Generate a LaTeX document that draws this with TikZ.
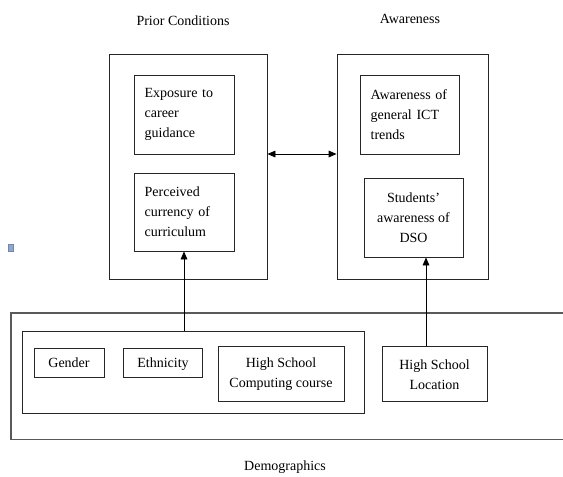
\documentclass[tikz,border=0pt]{standalone}
\usepackage{fontspec}
\setmainfont{Liberation Serif}
\usetikzlibrary{arrows.meta}
\begin{document}
\begin{tikzpicture}[x=0.75pt,y=-0.75pt,
  every node/.style={font=\fontsize{10.5pt}{15pt}\selectfont},
  box/.style={draw=black!85, line width=0.65pt, rectangle, inner sep=0pt},
  txtbox/.style={box, align=left, inner xsep=8pt},
  cbox/.style={box, align=center},
  conn/.style={line width=0.65pt, -{Triangle[length=6pt,width=5pt]}},
  title/.style={inner sep=0pt}]
\useasboundingbox (0,0) rectangle (563,476);
% titles
\node[title] (tprior) at (183,21) {Prior Conditions};
\node[title] (taware) at (410,19) {Awareness};
\node[title] (tdemo) at (285,467) {Demographics};
% big boxes
\node[box, minimum width=118.5pt, minimum height=168.75pt] (prior) at (188,166.5) {};
\node[box, minimum width=113.25pt, minimum height=168.75pt] (aware) at (412.5,166.5) {};
% inner boxes
\node[txtbox, minimum width=75pt, minimum height=59.25pt, text width=59pt] (expo) at (184,114.5) {Exposure to\\career\\guidance};
\node[txtbox, minimum width=75pt, minimum height=58.5pt, text width=59pt] (perc) at (184,212) {Perceived\\currency of\\curriculum};
\node[txtbox, minimum width=74.25pt, minimum height=59.25pt, text width=58.25pt] (ict) at (409.5,114.5) {Awareness of\\general ICT\\trends};
\node[cbox, minimum width=74.25pt, minimum height=59.25pt] (stud) at (413.5,217.5) {Students'\\awareness of\\DSO};
% demographics
\draw[draw=black!65, line width=0.9pt] (566,313) -- (11,313) -- (11,439.5) -- (566,439.5);
\node[box, minimum width=256.5pt, minimum height=61.5pt] (grp) at (193,372.5) {};
\node[cbox, minimum width=52.5pt, minimum height=21.5pt] (gender) at (69,363) {\strut Gender};
\node[cbox, minimum width=59pt, minimum height=21.5pt] (eth) at (163,363) {\strut Ethnicity};
\node[cbox, minimum width=94.5pt, minimum height=41.25pt] (hsc) at (281,374.2) {High School\\Computing course};
\node[cbox, minimum width=78.75pt, minimum height=41.25pt] (hsl) at (434.5,374.2) {High School\\Location};
% connectors
\draw[conn] (grp.north -| perc.south) -- (perc.south);
\draw[conn] (hsl.north -| 426,0) -- (stud.south -| 426,0);
\draw[line width=0.65pt, {Triangle[length=6pt,width=5pt]}-{Triangle[length=6pt,width=5pt]}] (prior.east |- 0,154) -- (aware.west |- 0,154);
% small marker
\definecolor{markfill}{HTML}{93A7C9}
\definecolor{markdraw}{HTML}{6F86AE}
\node[draw=markdraw, fill=markfill, line width=0.4pt, minimum width=3.6pt, minimum height=5.4pt, inner sep=0pt] (mark) at (10.5,248) {};
\end{tikzpicture}
\end{document}
